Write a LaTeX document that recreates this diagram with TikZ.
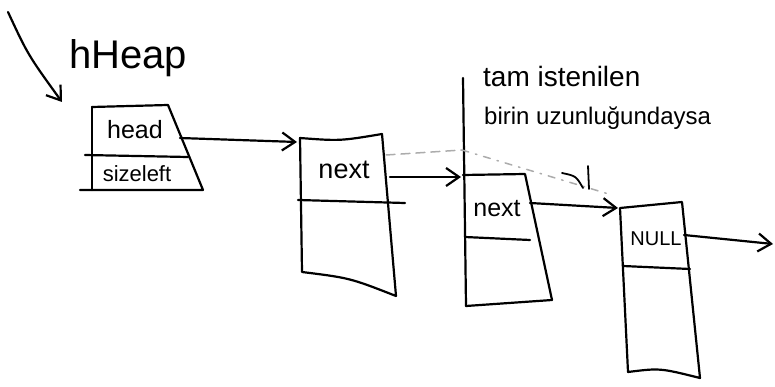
\documentclass[tikz,border=0pt]{standalone}
\usepackage{fontspec}
\setmainfont{Liberation Sans}
\usepackage{tikz}
\usetikzlibrary{arrows.meta,positioning}

\begin{document}
\begin{tikzpicture}[x=1pt, y=-1pt, line cap=round, line join=round,
  pen/.style={black, line width=2.2pt},
  link/.style={pen, -{Straight Barb[length=13pt,width=18pt,line width=2.2pt]}},
  hint/.style={gray!65, line width=1.5pt},
  cell/.style={font=\fontsize{25}{27}\selectfont, inner sep=0pt},
  note/.style={font=\fontsize{28}{30}\selectfont, inner sep=0pt, anchor=west}]

\useasboundingbox (0,0) rectangle (775,387);

% Pointer name and its arrow
\node[font=\fontsize{40}{44}\selectfont, inner sep=0pt] (hname) at (128,58) {hHeap};
\coordinate (ptrtail) at (8,12);
\coordinate (ptrhead) at (62,102);
\draw[link] (ptrtail) .. controls (28,55) .. (ptrhead);

% Heap header block
\draw[pen] (92,107) -- (168,105) -- (203,190) -- (80,190);
\draw[pen] (92,107) -- (92,190);
\draw[pen] (85,155) -- (188,157);
\node[cell] (head) at (135,130) {head};
\node[cell, font=\fontsize{22}{24}\selectfont] (size) at (137,174) {sizeleft};

% First free block
\draw[pen] (300,138) .. controls (340,141) .. (382,134) -- (396,296)
  .. controls (350,278) .. (302,272) -- cycle;
\draw[pen] (298,200) -- (405,203);
\node[cell, font=\fontsize{27}{29}\selectfont] (next1) at (344,170) {next};

% Second block, the one that fits exactly
\draw[pen] (463,78) -- (466,306);
\draw[pen] (463,175) -- (525,174) -- (552,300) -- (466,306);
\draw[pen] (465,237) -- (530,240);
\node[cell] (next2) at (497,209) {next};

% Last block
\draw[pen] (620,208) -- (682,202) -- (700,378) .. controls (660,368) .. (628,372) -- cycle;
\draw[pen] (623,266) -- (690,269);
\node[cell, font=\fontsize{20}{22}\selectfont] (null) at (656,239) {NULL};

% Links between blocks
\coordinate (headout) at (180,138);
\coordinate (b1in) at (297,142);
\coordinate (b1out) at (390,177);
\coordinate (b2in) at (461,177);
\coordinate (b2out) at (530,203);
\coordinate (b3in) at (618,208);
\coordinate (b3out) at (684,235);
\coordinate (b3end) at (773,244);
\draw[link] (headout) -- (b1in);
\draw[link] (b1out) -- (b2in);
\draw[link] (b2out) -- (b3in);
\draw[link] (b3out) -- (b3end);

% Bypass link once the block is handed out
\coordinate (skipa) at (386,155);
\coordinate (skipb) at (462,150);
\coordinate (skipc) at (612,195);
\draw[hint, dash pattern=on 9pt off 6pt] (skipa) -- (skipb);
\draw[hint, dash pattern=on 7pt off 7pt on 1.5pt off 7pt] (skipb) -- (skipc);
\draw[pen, line width=1.8pt] (562,173) .. controls (576,176) .. (583,188);
\draw[pen, line width=1.8pt] (588,166) -- (589,189);

% Note about the exact size
\node[note] (note1) at (483,76) {tam istenilen};
\node[note, font=\fontsize{24}{26}\selectfont] (note2) at (484,118) {birin uzunluğundaysa};

\end{tikzpicture}
\end{document}
